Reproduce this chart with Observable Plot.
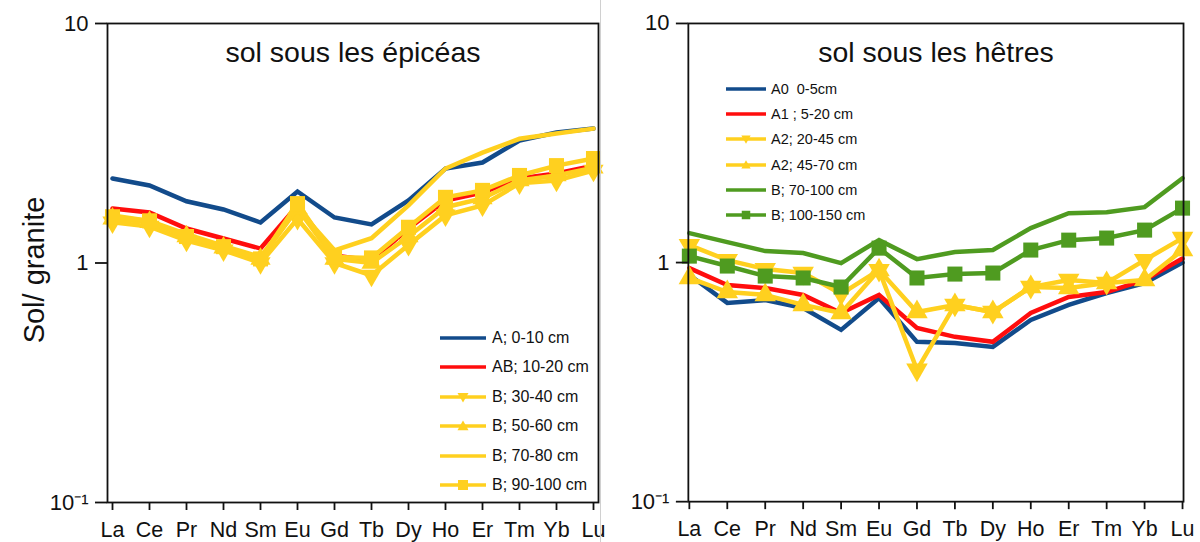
<!DOCTYPE html>
<html><head><meta charset="utf-8">
<script src="https://cdn.jsdelivr.net/npm/d3@7"></script>
<script src="https://cdn.jsdelivr.net/npm/@observablehq/plot@0.6"></script>
<style>
body{margin:0;background:#fff;font-family:"Liberation Sans",Arial,sans-serif;color:#111;}
#wrap{position:relative;width:1200px;height:542px;display:flex;overflow:hidden;}
.panel{position:relative;width:600px;height:542px;}
#right{border-left:1px solid #d0d0d0;box-sizing:border-box;}
.ylab{position:absolute;left:34px;top:270px;transform:translate(-50%,-50%) rotate(-90deg);font-size:29px;white-space:nowrap;}
.legend .row{position:absolute;display:flex;align-items:center;white-space:pre;height:18px;}
.legend svg{display:block;overflow:visible;}
</style></head><body>
<div id="wrap"><div class="panel" id="left"></div><div class="panel" id="right"></div></div>
<script>
// ---------- data ----------
const elements = ["La","Ce","Pr","Nd","Sm","Eu","Gd","Tb","Dy","Ho","Er","Tm","Yb","Lu"];
const yTicks = [0.1, 1, 10];
const yTickLabels = ["10\u207B\u00B9", "1", "10"];

const titleSpruce = "sol sous les épicéas";
const titleBeech = "sol sous les hêtres";
const yLabel = "Sol/ granite";

// spruce soil (left)
const spruceNames = ["A; 0-10 cm","AB; 10-20 cm","B; 30-40 cm","B; 50-60 cm","B; 70-80 cm","B; 90-100 cm"];
const spruceA    = [2.254,2.107,1.811,1.673,1.476,1.989,1.549,1.448,1.824,2.48,2.628,3.247,3.506,3.644];
const spruceAB   = [1.689,1.625,1.393,1.266,1.149,1.738,1.075,1.024,1.393,1.824,1.97,2.254,2.365,2.55];
const spruceB30  = [1.48,1.42,1.24,1.13,1.0,1.53,1.0,0.887,1.19,1.58,1.74,2.15,2.21,2.43];
const spruceB50  = [1.53,1.48,1.29,1.16,1.04,1.69,1.04,1.0,1.29,1.71,1.86,2.21,2.32,2.5];
const spruceB70  = [1.58,1.5,1.32,1.18,1.06,1.69,1.13,1.27,1.74,2.48,2.89,3.3,3.47,3.64];
const spruceB90  = [1.56,1.5,1.29,1.17,1.04,1.77,1.06,1.05,1.41,1.88,2.01,2.32,2.55,2.73];

// beech soil (right)
const beechNames = ["A0  0-5cm","A1 ; 5-20 cm","A2; 20-45 cm","A2; 45-70 cm","B; 70-100 cm","B; 100-150 cm"];
const beechA0    = [0.887,0.678,0.697,0.646,0.523,0.711,0.466,0.461,0.444,0.575,0.665,0.746,0.821,1.0];
const beechA1    = [0.948,0.806,0.782,0.732,0.615,0.732,0.533,0.489,0.466,0.615,0.718,0.753,0.845,1.04];
const beechA2a   = [1.183,1.024,0.939,0.904,0.74,0.93,0.356,0.665,0.621,0.79,0.845,0.821,1.024,1.266];
const beechA2b   = [0.862,0.753,0.732,0.665,0.615,0.93,0.621,0.665,0.621,0.79,0.782,0.821,0.845,1.128];
const beechB70   = [1.328,1.218,1.117,1.096,0.995,1.241,1.034,1.106,1.128,1.393,1.609,1.625,1.705,2.254];
const beechB100  = [1.064,0.967,0.878,0.862,0.79,1.149,0.862,0.895,0.904,1.128,1.241,1.266,1.367,1.689];

// ---------- styles ----------
const BLUE = "#124b8b", RED = "#ff0d0d", YELLOW = "#ffd01f", GREEN = "#4f9b20";
const triDown = {draw(ctx, size){ const s3 = Math.sqrt(3); const y = -Math.sqrt(size/(s3*3)); ctx.moveTo(0,-y*2); ctx.lineTo(-s3*y, y); ctx.lineTo(s3*y, y); ctx.closePath(); }};

const spruceSeries = [
  {name: spruceNames[0], values: spruceA,   color: BLUE,   symbol: null},
  {name: spruceNames[1], values: spruceAB,  color: RED,    symbol: null},
  {name: spruceNames[2], values: spruceB30, color: YELLOW, symbol: triDown, r: 7.5},
  {name: spruceNames[3], values: spruceB50, color: YELLOW, symbol: "triangle", r: 7.5},
  {name: spruceNames[4], values: spruceB70, color: YELLOW, symbol: null},
  {name: spruceNames[5], values: spruceB90, color: YELLOW, symbol: "square", r: 8.5}
];
const beechSeries = [
  {name: beechNames[0], values: beechA0,   color: BLUE,   symbol: null},
  {name: beechNames[1], values: beechA1,   color: RED,    symbol: null},
  {name: beechNames[2], values: beechA2a,  color: YELLOW, symbol: triDown, r: 8},
  {name: beechNames[3], values: beechA2b,  color: YELLOW, symbol: "triangle", r: 8},
  {name: beechNames[4], values: beechB70,  color: GREEN,  symbol: null},
  {name: beechNames[5], values: beechB100, color: GREEN,  symbol: "square", r: 8.5}
];

function seriesMarks(series){
  const marks = [];
  for (const s of series){
    const rows = elements.map((e,i)=>({el:e, v:s.values[i]}));
    marks.push(Plot.line(rows, {x:"el", y:"v", stroke:s.color, strokeWidth:4.5, strokeLinejoin:"miter", strokeMiterlimit:2}));
    if (s.symbol) marks.push(Plot.dot(rows, {x:"el", y:"v", symbol:s.symbol, r:s.r, fill:s.color, stroke:"none"}));
  }
  return marks;
}

function makePlot(series, title, mLeft, mRight){
  return Plot.plot({
    width: 600, height: 542,
    marginTop: 23, marginBottom: 40, marginLeft: mLeft, marginRight: mRight,
    style: {fontFamily: "'Liberation Sans', Arial, sans-serif", color: "#111", background: "transparent", overflow: "visible"},
    x: {type: "point", domain: elements, padding: 0},
    y: {type: "log", domain: [0.1, 10]},
    marks: [
      ...seriesMarks(series),
      Plot.frame({stroke: "#111", strokeWidth: 1.8}),
      Plot.axisY({ticks: yTicks, tickFormat: d => yTickLabels[yTicks.indexOf(d)], tickSize: 12, tickPadding: 7, fontSize: 22, label: null, strokeWidth: 1.8}),
      Plot.axisX({tickSize: 8, tickPadding: 11, fontSize: 21.5, label: null, strokeWidth: 1.8}),
      Plot.text([title], {frameAnchor: "top", dy: 29, lineAnchor: "middle", fontSize: 28.5, text: d => d, fill: "#111"})
    ]
  });
}

function legendSymbolSvg(s, w, lw, scale){
  let m = "";
  const cx = w/2, cy = 9;
  if (s.symbol === "square"){ const h = 5*scale; m = `<rect x="${cx-h}" y="${cy-h}" width="${2*h}" height="${2*h}" fill="${s.color}"/>`; }
  else if (s.symbol === "triangle"){ const h = 5.5*scale; m = `<path d="M${cx},${cy-h} L${cx+h},${cy+h*0.75} L${cx-h},${cy+h*0.75}Z" fill="${s.color}"/>`; }
  else if (s.symbol){ const h = 5.5*scale; m = `<path d="M${cx},${cy+h} L${cx+h},${cy-h*0.75} L${cx-h},${cy-h*0.75}Z" fill="${s.color}"/>`; }
  return `<svg width="${w}" height="18"><line x1="0" x2="${w}" y1="${cy}" y2="${cy}" stroke="${s.color}" stroke-width="${lw}"/>${m}</svg>`;
}

function addLegend(container, series, left, top0, step, w, lw, fs, gap, scale){
  const lg = document.createElement("div");
  lg.className = "legend";
  series.forEach((s,i)=>{
    const row = document.createElement("div");
    row.className = "row";
    row.style.left = left + "px";
    row.style.top = (top0 + i*step - 9) + "px";
    row.style.fontSize = fs + "px";
    row.innerHTML = legendSymbolSvg(s, w, lw, scale) + `<span style="margin-left:${gap}px">${s.name}</span>`;
    lg.appendChild(row);
  });
  container.appendChild(lg);
}

const left = document.getElementById("left");
left.appendChild(makePlot(spruceSeries, titleSpruce, 107, 2));
const yl = document.createElement("div"); yl.className = "ylab"; yl.textContent = yLabel; left.appendChild(yl);
addLegend(left, spruceSeries, 440, 338, 29.4, 46, 3.6, 16, 6, 1);

const right = document.getElementById("right");
right.appendChild(makePlot(beechSeries, titleBeech, 87, 17));
addLegend(right, beechSeries, 125, 89, 25.2, 40, 3.6, 14.5, 5, 0.85);
</script>
</body></html>
